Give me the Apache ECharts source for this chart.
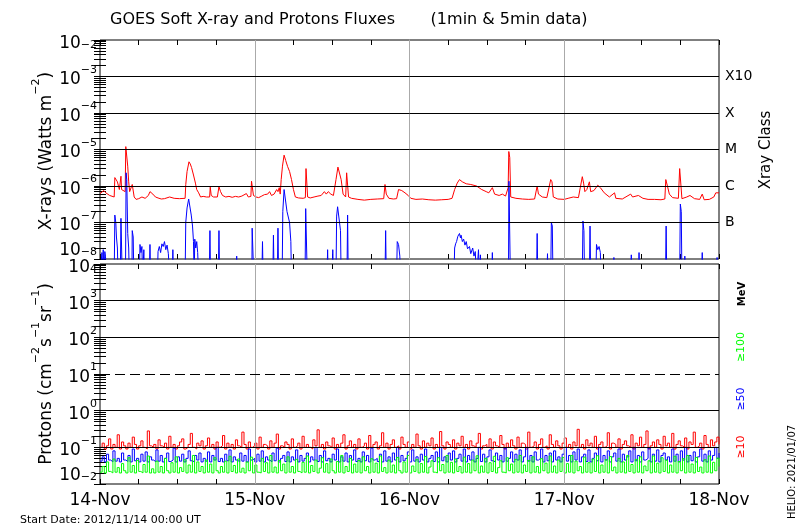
<!DOCTYPE html>
<html><head><meta charset="utf-8">
<script src="https://cdn.jsdelivr.net/npm/echarts@6/dist/echarts.min.js"></script>
<style>html,body{margin:0;padding:0;background:#fff}#c{width:800px;height:530px}</style>
</head><body><div id="c"></div>
<script>
// ---------- data ----------
const dayLabels = ['14-Nov', '15-Nov', '16-Nov', '17-Nov', '18-Nov'];
const xrayClassLabels = { '-7': 'B', '-6': 'C', '-5': 'M', '-4': 'X', '-3': 'X10' };
const titleText = 'GOES Soft X-ray and Protons Fluxes       (1min & 5min data)';
const startDateText = 'Start Date: 2012/11/14 00:00 UT';
const helioText = 'HELIO: 2021/01/07';

// hours since 2012-11-14 00:00, flux (W m^-2), long channel 1-8 A
const xrayLong = [
[0.0,6.2e-7],[0.3,6.8e-7],[0.6,7.5e-7],[0.9,6.5e-7],[1.2,7.2e-7],[1.5,5.5e-7],[1.8,5.2e-7],[2.2,5.0e-7],[2.3,1.7e-6],[2.5,1.6e-6],[2.7,1.3e-6],[2.9,1.4e-6],[3.0,8e-7],[3.15,7.5e-7],[3.25,1.85e-6],[3.35,8e-7],[3.6,7.5e-7],[3.9,7e-7],[4.0,1.2e-5],[4.15,1.1e-5],[4.3,3.5e-6],[4.45,1.3e-6],[4.6,7e-7],[4.9,6.5e-7],[5.0,1.1e-6],[5.15,1.1e-6],[5.3,5e-7],[5.6,4.3e-7],[6.0,4.5e-7],[6.5,5e-7],[7.0,4.6e-7],[7.5,5.5e-7],[7.75,7e-7],[8.2,6e-7],[8.6,5e-7],[9.0,4.7e-7],[9.5,4.4e-7],[10.0,4.5e-7],[10.8,5e-7],[11.5,4.6e-7],[12.3,4.5e-7],[13.2,4.6e-7],[13.3,1.1e-6],[13.5,2.5e-6],[13.8,4.6e-6],[14.0,4.0e-6],[14.2,3.2e-6],[14.5,2e-6],[14.8,1.2e-6],[15.0,8e-7],[15.3,6.5e-7],[15.6,5e-7],[16.0,5.2e-7],[16.5,5e-7],[17.0,5e-7],[17.1,9.3e-7],[17.25,5.5e-7],[17.6,5e-7],[18.2,5e-7],[18.45,9.5e-7],[18.7,7e-7],[19.0,5.5e-7],[19.5,5e-7],[20.0,5.2e-7],[20.5,4.9e-7],[21.0,5.2e-7],[21.5,5e-7],[22.0,5.3e-7],[22.7,6.2e-7],[23.0,5e-7],[23.4,5.2e-7],[23.5,1.35e-6],[23.7,1.3e-6],[23.8,5.5e-7],[24.2,5e-7],[24.6,4.8e-7],[25.0,5.2e-7],[25.5,5.8e-7],[26.0,6e-7],[26.3,7e-7],[26.6,5.5e-7],[27.0,6e-7],[27.4,8e-7],[27.6,7e-7],[27.8,9e-7],[27.95,6e-7],[28.1,1.5e-6],[28.3,3.5e-6],[28.55,7e-6],[28.8,5e-6],[29.1,3.4e-6],[29.4,2.5e-6],[29.7,1.5e-6],[30.0,8e-7],[30.3,5e-7],[30.8,4.7e-7],[31.5,4.6e-7],[31.85,4.8e-7],[31.95,3e-6],[32.1,3e-6],[32.2,5e-7],[32.6,4.7e-7],[33.2,5e-7],[33.8,5.3e-7],[34.3,5.5e-7],[34.8,7e-7],[35.1,6e-7],[35.4,7e-7],[35.8,6e-7],[36.2,5.5e-7],[36.6,1.5e-6],[36.9,3.3e-6],[37.2,3e-6],[37.4,1.5e-6],[37.7,6e-7],[38.1,5e-7],[38.25,2.3e-6],[38.45,2.3e-6],[38.55,5e-7],[39.0,4.6e-7],[40.0,4.3e-7],[41.0,4.1e-7],[42.0,4.3e-7],[43.0,4.4e-7],[44.0,4.5e-7],[44.2,1.1e-6],[44.4,6e-7],[44.8,4.6e-7],[45.5,4.4e-7],[46.0,4.5e-7],[46.3,8e-7],[46.8,7.5e-7],[47.3,6.5e-7],[47.8,5.5e-7],[48.2,4.6e-7],[49.0,4.3e-7],[50.0,4.4e-7],[51.0,4.2e-7],[52.0,4.1e-7],[53.0,4.2e-7],[54.0,4.3e-7],[54.6,4.6e-7],[55.0,8e-7],[55.4,1.2e-6],[55.75,1.5e-6],[56.2,1.3e-6],[56.8,1.15e-6],[57.5,1.1e-6],[58.4,1.0e-6],[59.2,8e-7],[59.9,7e-7],[60.3,6.5e-7],[60.85,9e-7],[61.2,6e-7],[61.9,5.5e-7],[62.4,6e-7],[62.9,5.3e-7],[63.3,9e-7],[63.4,8.8e-6],[63.55,6e-6],[63.7,5e-7],[64.5,4.6e-7],[65.5,4.4e-7],[66.5,4.3e-7],[67.4,4.4e-7],[67.8,1e-6],[68.0,6e-7],[68.6,5e-7],[69.3,4.8e-7],[69.9,1.5e-6],[70.1,1.3e-6],[70.3,5e-7],[71.0,4.4e-7],[72.0,4.3e-7],[72.6,4.6e-7],[73.4,5e-7],[74.2,4.8e-7],[74.8,1.8e-6],[75.0,1.2e-6],[75.2,7e-7],[75.5,8e-7],[75.9,1.3e-6],[76.1,7e-7],[76.6,7.5e-7],[77.2,1.05e-6],[77.6,9e-7],[78.2,6.5e-7],[79.0,5e-7],[79.8,6.5e-7],[80.0,4.6e-7],[81.0,4.4e-7],[82.3,6e-7],[82.6,5e-7],[83.5,5.5e-7],[83.8,6e-7],[84.2,4.6e-7],[85.0,4.3e-7],[86.0,4.3e-7],[87.0,4.2e-7],[87.6,4.4e-7],[87.75,1.5e-6],[88.0,1e-6],[88.3,6e-7],[88.8,4.8e-7],[89.7,4.6e-7],[89.9,3e-6],[90.1,2.8e-6],[90.25,4.5e-7],[91.0,5e-7],[91.5,5.5e-7],[92.2,4.5e-7],[93.0,4.3e-7],[93.4,6e-7],[93.7,4.2e-7],[94.5,4.3e-7],[95.2,5e-7],[95.5,6.5e-7],[96.0,6.5e-7]
];

// short channel 0.5-4 A (values below 1e-8 are off-scale)
const xrayShort = [
[0,3e-9],[0.25,3e-9],[0.3,1.5e-8],[0.4,3e-9],[0.5,1.8e-8],[0.6,3e-9],[0.75,1.6e-8],[0.85,1.2e-8],[1.0,3e-9],[2.2,3e-9],[2.3,1.6e-7],[2.45,1e-7],[2.55,4e-8],[2.7,2e-8],[2.8,3e-9],[3.15,3e-9],[3.25,1.3e-7],[3.35,2e-8],[3.45,3e-9],[3.95,3e-9],[4.05,2.3e-6],[4.15,1.5e-6],[4.3,5e-8],[4.45,2e-8],[4.55,3e-9],[4.95,3e-9],[5.0,6e-8],[5.15,4e-8],[5.25,3e-9],[6.1,3e-9],[6.2,2.5e-8],[6.35,1.5e-8],[6.5,2.2e-8],[6.6,3e-9],[6.8,1.8e-8],[6.9,3e-9],[7.65,3e-9],[7.75,2.5e-8],[7.85,3e-9],[8.9,3e-9],[9.0,1.6e-8],[9.2,2.2e-8],[9.4,1.5e-8],[9.6,2.6e-8],[9.8,2.2e-8],[10.0,3e-8],[10.2,1.8e-8],[10.4,2.4e-8],[10.6,1.4e-8],[10.8,3e-9],[11.2,3e-9],[11.3,1.8e-8],[11.4,3e-9],[13.2,3e-9],[13.3,1e-7],[13.5,2.5e-7],[13.75,4.4e-7],[13.95,4e-7],[14.15,1.6e-7],[14.35,8e-8],[14.5,3e-8],[14.6,3e-9],[14.7,3.5e-8],[14.85,2e-8],[15.0,3e-8],[15.15,1.5e-8],[15.3,3e-9],[16.95,3e-9],[17.05,6e-8],[17.15,3e-9],[18.35,3e-9],[18.45,6e-8],[18.55,3e-9],[21.1,3e-9],[21.2,1.2e-8],[21.3,3e-9],[23.55,3e-9],[23.6,7e-8],[23.75,6.5e-8],[23.85,3e-9],[25.1,3e-9],[25.2,3e-8],[25.3,3e-9],[26.8,3e-9],[26.9,4.5e-8],[27.0,3e-9],[27.5,3e-9],[27.6,7e-8],[27.7,3e-9],[28.25,3e-9],[28.35,2e-7],[28.55,8e-7],[28.8,7.5e-7],[29.0,2e-7],[29.2,1.8e-7],[29.4,1e-7],[29.6,3e-8],[29.7,3e-9],[31.8,3e-9],[31.9,2.4e-7],[32.05,2.3e-7],[32.15,3e-9],[35.2,3e-9],[35.3,1.8e-8],[35.4,3e-9],[36.0,3e-9],[36.1,1.8e-8],[36.2,3e-9],[36.6,3e-9],[36.7,1.5e-7],[36.85,2.7e-7],[37.0,2.6e-7],[37.3,6e-8],[37.4,3e-9],[38.3,3e-9],[38.4,1.6e-7],[38.5,3e-9],[44.2,3e-9],[44.3,6e-8],[44.4,3e-9],[46.0,3e-9],[46.1,3e-8],[46.3,2.5e-8],[46.5,1.2e-8],[46.6,3e-9],[54.9,3e-9],[55.0,2e-8],[55.15,2.6e-8],[55.3,3e-8],[55.5,4.2e-8],[55.75,5e-8],[55.9,3.8e-8],[56.0,4.5e-8],[56.2,3e-8],[56.4,3.5e-8],[56.6,2.4e-8],[56.8,3e-8],[57.0,1.9e-8],[57.3,2.2e-8],[57.5,1.4e-8],[57.8,2e-8],[58.0,1.2e-8],[58.2,1.6e-8],[58.4,3e-9],[58.7,1.8e-8],[58.85,3e-9],[59.0,1.3e-8],[59.1,3e-9],[60.75,3e-9],[60.85,1.5e-8],[60.95,3e-9],[63.35,3e-9],[63.42,1.35e-6],[63.55,1.2e-6],[63.65,3e-9],[67.7,3e-9],[67.8,5e-8],[67.9,3e-9],[69.3,3e-9],[69.4,1.4e-8],[69.5,3e-9],[69.9,3e-9],[70.0,1e-7],[70.15,8e-8],[70.25,3e-9],[74.8,3e-9],[74.9,1.1e-7],[75.05,6e-8],[75.15,3e-9],[75.9,3e-9],[76.0,8e-8],[76.1,3e-9],[76.9,3e-9],[77.0,2.5e-8],[77.2,1.8e-8],[77.4,2.2e-8],[77.6,1.5e-8],[77.7,3e-9],[79.6,3e-9],[79.7,1.1e-8],[79.8,3e-9],[82.3,3e-9],[82.4,1.3e-8],[82.5,3e-9],[83.5,3e-9],[83.6,1.5e-8],[83.7,3e-9],[87.7,3e-9],[87.8,8e-8],[87.9,3e-9],[89.9,3e-9],[90.0,3.2e-7],[90.15,2e-7],[90.25,3e-9],[90.6,3e-9],[90.7,1.2e-8],[90.8,3e-9],[93.3,3e-9],[93.4,1.5e-8],[93.5,3e-9],[95.6,3e-9],[95.7,1.1e-8],[95.8,3e-9],[96,3e-9]
];

// protons (pfu), one value every 20 min from 14-Nov 00:00
const protonStepHours = 1 / 3;
const protons10 = [
0.1,0.13,0.09,0.11,0.17,0.09,0.12,0.1,0.22,0.09,0.14,0.11,0.09,0.13,0.1,0.19,0.12,0.09,0.11,0.15,0.1,0.09,0.28,0.11,
0.1,0.12,0.09,0.16,0.11,0.1,0.13,0.09,0.2,0.1,0.12,0.09,0.11,0.14,0.17,0.09,0.1,0.12,0.24,0.1,0.09,0.13,0.11,0.15,
0.09,0.11,0.18,0.1,0.12,0.09,0.14,0.1,0.11,0.21,0.09,0.13,0.1,0.12,0.09,0.16,0.11,0.1,0.26,0.12,0.09,0.14,0.1,0.11,
0.13,0.09,0.19,0.1,0.12,0.11,0.09,0.15,0.1,0.13,0.23,0.09,0.11,0.1,0.14,0.12,0.09,0.17,0.1,0.11,0.13,0.09,0.2,0.1,
0.12,0.1,0.09,0.16,0.11,0.3,0.1,0.12,0.09,0.14,0.11,0.1,0.18,0.09,0.12,0.1,0.13,0.22,0.09,0.11,0.15,0.1,0.12,0.09,
0.17,0.1,0.11,0.13,0.09,0.21,0.1,0.12,0.14,0.09,0.11,0.25,0.1,0.13,0.09,0.12,0.16,0.1,0.11,0.09,0.19,0.12,0.1,0.14,
0.09,0.12,0.1,0.23,0.11,0.09,0.15,0.1,0.13,0.11,0.18,0.09,0.12,0.1,0.27,0.11,0.09,0.14,0.12,0.1,0.16,0.09,0.13,0.11,
0.2,0.1,0.12,0.09,0.15,0.11,0.1,0.13,0.24,0.09,0.11,0.12,0.1,0.17,0.09,0.14,0.11,0.1,0.21,0.12,0.09,0.13,0.1,0.16,
0.11,0.09,0.19,0.1,0.13,0.12,0.09,0.26,0.1,0.11,0.14,0.09,0.12,0.17,0.1,0.11,0.09,0.22,0.12,0.1,0.15,0.11,0.09,0.13,
0.18,0.1,0.12,0.09,0.14,0.11,0.31,0.1,0.12,0.09,0.16,0.11,0.13,0.1,0.2,0.09,0.12,0.14,0.1,0.11,0.25,0.09,0.13,0.12,
0.1,0.17,0.09,0.12,0.15,0.11,0.1,0.22,0.09,0.13,0.11,0.19,0.1,0.12,0.28,0.09,0.11,0.14,0.1,0.16,0.12,0.09,0.2,0.11,
0.13,0.1,0.24,0.09,0.12,0.15,0.11,0.1,0.18,0.09,0.14,0.12,0.26,0.1,0.11,0.13,0.09,0.21,0.12,0.1,0.16,0.11,0.14,0.19,0.12
];
const protons50 = [
0.042,0.055,0.04,0.065,0.045,0.04,0.08,0.042,0.05,0.04,0.07,0.045,0.041,0.06,0.04,0.09,0.043,0.05,0.04,0.065,0.042,0.075,0.04,0.055,
0.045,0.04,0.085,0.042,0.06,0.04,0.05,0.07,0.041,0.045,0.095,0.04,0.055,0.042,0.065,0.04,0.05,0.08,0.043,0.04,0.06,0.045,0.07,0.04,
0.05,0.042,0.075,0.04,0.06,0.045,0.1,0.041,0.05,0.04,0.065,0.043,0.085,0.04,0.055,0.045,0.04,0.07,0.042,0.06,0.04,0.09,0.045,0.05,
0.04,0.065,0.042,0.08,0.04,0.055,0.045,0.04,0.07,0.043,0.095,0.04,0.05,0.06,0.041,0.075,0.04,0.055,0.045,0.085,0.04,0.06,0.042,0.05,
0.07,0.04,0.055,0.045,0.1,0.041,0.06,0.04,0.08,0.043,0.05,0.04,0.065,0.045,0.09,0.04,0.055,0.042,0.07,0.04,0.06,0.045,0.085,0.041,
0.05,0.04,0.075,0.043,0.06,0.04,0.095,0.045,0.05,0.041,0.065,0.04,0.08,0.042,0.055,0.04,0.07,0.045,0.1,0.04,0.06,0.043,0.05,0.075,
0.04,0.085,0.042,0.055,0.04,0.065,0.045,0.09,0.04,0.05,0.06,0.041,0.075,0.04,0.1,0.043,0.055,0.04,0.07,0.045,0.08,0.04,0.05,0.065,
0.042,0.09,0.04,0.06,0.045,0.075,0.04,0.05,0.1,0.041,0.065,0.04,0.055,0.085,0.043,0.04,0.07,0.045,0.06,0.04,0.095,0.042,0.05,0.075,
0.04,0.065,0.045,0.085,0.04,0.055,0.1,0.042,0.06,0.04,0.075,0.045,0.05,0.09,0.04,0.06,0.043,0.07,0.04,0.08,0.045,0.055,0.04,0.065,
0.1,0.042,0.06,0.04,0.075,0.045,0.09,0.04,0.055,0.065,0.041,0.085,0.04,0.05,0.07,0.043,0.1,0.04,0.06,0.045,0.08,0.04,0.055,0.07,
0.042,0.09,0.04,0.065,0.045,0.055,0.08,0.04,0.1,0.043,0.06,0.04,0.075,0.045,0.05,0.095,0.04,0.065,0.042,0.085,0.04,0.06,0.07,0.045,
0.055,0.04,0.09,0.042,0.065,0.04,0.08,0.045,0.1,0.04,0.06,0.043,0.075,0.04,0.055,0.09,0.042,0.065,0.04,0.08,0.045,0.06,0.1,0.05,0.07
];
const protons100 = [
0.021,0.03,0.02,0.04,0.022,0.02,0.048,0.021,0.028,0.02,0.036,0.023,0.02,0.052,0.021,0.032,0.02,0.044,0.022,0.02,0.034,0.021,0.058,0.02,
0.026,0.02,0.042,0.021,0.03,0.02,0.05,0.023,0.02,0.038,0.021,0.055,0.02,0.028,0.022,0.046,0.02,0.033,0.021,0.06,0.02,0.04,0.022,0.03,
0.02,0.045,0.021,0.035,0.02,0.052,0.023,0.02,0.03,0.021,0.042,0.02,0.057,0.022,0.032,0.02,0.048,0.021,0.027,0.02,0.04,0.023,0.054,0.02,
0.033,0.021,0.02,0.05,0.022,0.038,0.02,0.06,0.021,0.029,0.02,0.044,0.023,0.035,0.02,0.055,0.021,0.03,0.02,0.047,0.022,0.02,0.039,0.021,
0.058,0.02,0.032,0.022,0.045,0.02,0.027,0.052,0.021,0.036,0.02,0.048,0.023,0.02,0.041,0.021,0.06,0.02,0.03,0.022,0.05,0.02,0.035,0.021,
0.044,0.02,0.055,0.023,0.03,0.02,0.049,0.021,0.037,0.02,0.058,0.022,0.028,0.02,0.045,0.021,0.033,0.02,0.053,0.023,0.02,0.04,0.021,0.06,
0.02,0.031,0.022,0.047,0.02,0.036,0.021,0.056,0.02,0.029,0.043,0.021,0.02,0.052,0.023,0.034,0.02,0.06,0.021,0.039,0.02,0.048,0.022,0.03,
0.02,0.054,0.021,0.036,0.02,0.045,0.023,0.059,0.02,0.031,0.021,0.05,0.02,0.038,0.022,0.057,0.02,0.028,0.043,0.021,0.02,0.052,0.023,0.035,
0.02,0.047,0.021,0.06,0.02,0.033,0.022,0.044,0.02,0.055,0.021,0.03,0.02,0.049,0.023,0.037,0.02,0.058,0.021,0.031,0.02,0.045,0.022,0.053,
0.02,0.036,0.021,0.06,0.02,0.042,0.023,0.03,0.02,0.054,0.021,0.038,0.02,0.048,0.022,0.059,0.02,0.033,0.021,0.046,0.02,0.056,0.023,0.029,
0.02,0.05,0.021,0.04,0.02,0.06,0.022,0.034,0.02,0.047,0.021,0.055,0.02,0.031,0.023,0.043,0.02,0.058,0.021,0.037,0.02,0.052,0.022,0.045,
0.02,0.033,0.021,0.057,0.02,0.041,0.023,0.049,0.02,0.06,0.021,0.035,0.02,0.053,0.022,0.029,0.02,0.046,0.021,0.058,0.02,0.039,0.023,0.051,0.03
];

// reference lines
const xrayDecadeLines = [1e-7, 1e-6, 1e-5, 1e-4, 1e-3];
const protonDecadeLines = [1e-1, 1e0, 1e2, 1e3];
const protonThresholdLine = 1e1;
const dayBoundaries = [24, 48, 72];

// ---------- build ----------
const FONT = 'DejaVu Sans';
const toPairs = arr => arr.map((v, i) => [i * protonStepHours, v]);
function logTicks(e0, e1) {
  const out = [];
  for (let e = e0; e < e1; e++) for (let k = 1; k <= 9; k++) out.push(k * Math.pow(10, e));
  out.push(Math.pow(10, e1));
  return out;
}
function decades(e0, e1) { const o = []; for (let e = e0; e <= e1; e++) o.push(Math.pow(10, e)); return o; }
const expOf = v => Math.round(Math.log10(v));
function powLabelFor(e0, e1) {
  return v => {
    const e = expOf(v);
    const t = (e < 0 ? '\u2212' : '') + Math.abs(e);
    if (e === e0) return '{bu|10}{s|' + t + '}';
    if (e === e1) return '{bd|10}{sd|' + t + '}';
    return '{b|10}{s|' + t + '}';
  };
}
const baseStyle = { fontSize: 17, fontFamily: FONT, color: '#000', lineHeight: 24, verticalAlign: 'bottom' };
const supStyle = { fontSize: 11, fontFamily: FONT, color: '#000', lineHeight: 10, verticalAlign: 'top' };
const powRich = {
  b: baseStyle, s: supStyle,
  bu: Object.assign({}, baseStyle, { padding: [0, 0, 12, 0] }),
  bd: Object.assign({}, baseStyle, { padding: [12, 0, 0, 0] }),
  sd: Object.assign({}, supStyle, { padding: [12, 0, 0, 0] })
};

function xAx(grid, pos, labels) {
  return {
    type: 'value', gridIndex: grid, position: pos, min: 0, max: 96, interval: 6,
    axisLine: { show: false }, splitLine: { show: false },
    axisTick: { inside: true, length: 5, lineStyle: { color: '#000' } },
    axisLabel: labels ? {
      show: true, margin: 8, fontSize: 17, fontFamily: FONT, color: '#000',
      formatter: v => (v % 24 === 0 ? dayLabels[v / 24] : '')
    } : { show: false }
  };
}
function yAx(grid, pos, e0, e1, label) {
  return {
    type: 'log', logBase: 10, gridIndex: grid, position: pos,
    min: Math.pow(10, e0), max: Math.pow(10, e1), interval: 1,
    axisLine: { show: false }, splitLine: { show: false },
    axisTick: { customValues: logTicks(e0, e1), inside: true, length: 6, lineStyle: { color: '#000', width: 1 } },
    axisLabel: label
  };
}
function refLines(grid, yMin, yMax, solid, dashed) {
  const data = [];
  dayBoundaries.forEach(h => data.push({ coords: [[h, yMin], [h, yMax]], lineStyle: { color: '#aaaaaa', width: 1, opacity: 1, type: 'solid' } }));
  solid.forEach(v => data.push({ coords: [[0, v], [96, v]], lineStyle: { color: '#000', width: 1, opacity: 1, type: 'solid' } }));
  dashed.forEach(v => data.push({ coords: [[0, v], [96, v]], lineStyle: { color: '#000', width: 1, opacity: 1, type: [10, 5] } }));
  return { type: 'lines', coordinateSystem: 'cartesian2d', xAxisIndex: grid * 2, yAxisIndex: grid * 2,
    silent: true, z: 6, symbol: ['none', 'none'], lineStyle: { opacity: 1 }, data: data };
}

const rich = {
  b: { fontSize: 17, fontFamily: FONT, color: '#000', lineHeight: 24, verticalAlign: 'bottom' },
  s: { fontSize: 11, fontFamily: FONT, color: '#000', lineHeight: 10, verticalAlign: 'top' }
};
function rotText(x, y, text, size, color, weight) {
  return {
    type: 'text', x: x, y: y, rotation: Math.PI / 2, silent: true,
    style: { text: text, fontSize: size, fontWeight: weight || 'normal', fontFamily: FONT, fill: color, align: 'center', verticalAlign: 'middle', rich: rich }
  };
}
const lineSeries = (xi, yi, data, color, z, step) => ({
  type: 'line', xAxisIndex: xi, yAxisIndex: yi, data: data, showSymbol: false, symbol: 'none',
  step: step || false, lineStyle: { color: color, width: 1 }, clip: true, z: z
});

const option = {
  animation: false,
  backgroundColor: '#fff',
  grid: [
    { left: 100, top: 40, width: 619, height: 219, show: true, borderColor: '#000', borderWidth: 1, backgroundColor: 'transparent' },
    { left: 100, top: 264, width: 619, height: 220, show: true, borderColor: '#000', borderWidth: 1, backgroundColor: 'transparent' }
  ],
  xAxis: [xAx(0, 'bottom', false), xAx(0, 'top', false), xAx(1, 'bottom', true), xAx(1, 'top', false)],
  yAxis: [
    yAx(0, 'left', -8, -2, { show: true, margin: 3, customValues: decades(-8, -2), formatter: powLabelFor(-8, -2), rich: powRich }),
    yAx(0, 'right', -8, -2, { show: true, margin: 6, customValues: decades(-7, -3), fontSize: 14, fontFamily: FONT, color: '#000',
      formatter: v => xrayClassLabels[String(expOf(v))] || '' }),
    yAx(1, 'left', -2, 4, { show: true, margin: 3, customValues: decades(-2, 4), formatter: powLabelFor(-2, 4), rich: powRich }),
    yAx(1, 'right', -2, 4, { show: false })
  ],
  series: [
    lineSeries(0, 0, xrayLong, '#ff0000', 2),
    lineSeries(0, 0, xrayShort, '#0000ff', 3),
    refLines(0, 1e-8, 1e-2, xrayDecadeLines, []),
    lineSeries(2, 2, toPairs(protons10), '#ff0000', 2, 'end'),
    lineSeries(2, 2, toPairs(protons50), '#0000ff', 3, 'end'),
    lineSeries(2, 2, toPairs(protons100), '#00ff00', 4, 'end'),
    refLines(1, 1e-2, 1e4, protonDecadeLines, [protonThresholdLine])
  ],
  graphic: [
    { type: 'text', x: 110, y: 20, silent: true, style: { text: titleText, fontSize: 16, fontFamily: FONT, fill: '#000', verticalAlign: 'middle' } },
    rotText(43, 151, '{b|X-rays (Watts m}{s|\u22122}{b|)}', 17, '#000'),
    rotText(43, 374, '{b|Protons (cm}{s|\u22122}{b|s}{s|\u22121}{b|sr}{s|\u22121}{b|)}', 17, '#000'),
    rotText(766, 150, 'Xray Class', 15, '#000'),
    rotText(742, 294, 'MeV', 10, '#000', 'bold'),
    rotText(741, 347, '\u2265100', 11, '#00ff00'),
    rotText(741, 399, '\u226550', 11, '#0000ff'),
    rotText(741, 447, '\u226510', 11, '#ff0000'),
    rotText(792, 472, helioText, 10, '#000'),
    { type: 'text', x: 20, y: 520, silent: true, style: { text: startDateText, fontSize: 11, fontFamily: FONT, fill: '#000', verticalAlign: 'middle' } }
  ]
};
const chart = echarts.init(document.getElementById('c'), null, { renderer: 'canvas' });
chart.setOption(option);
</script></body></html>
